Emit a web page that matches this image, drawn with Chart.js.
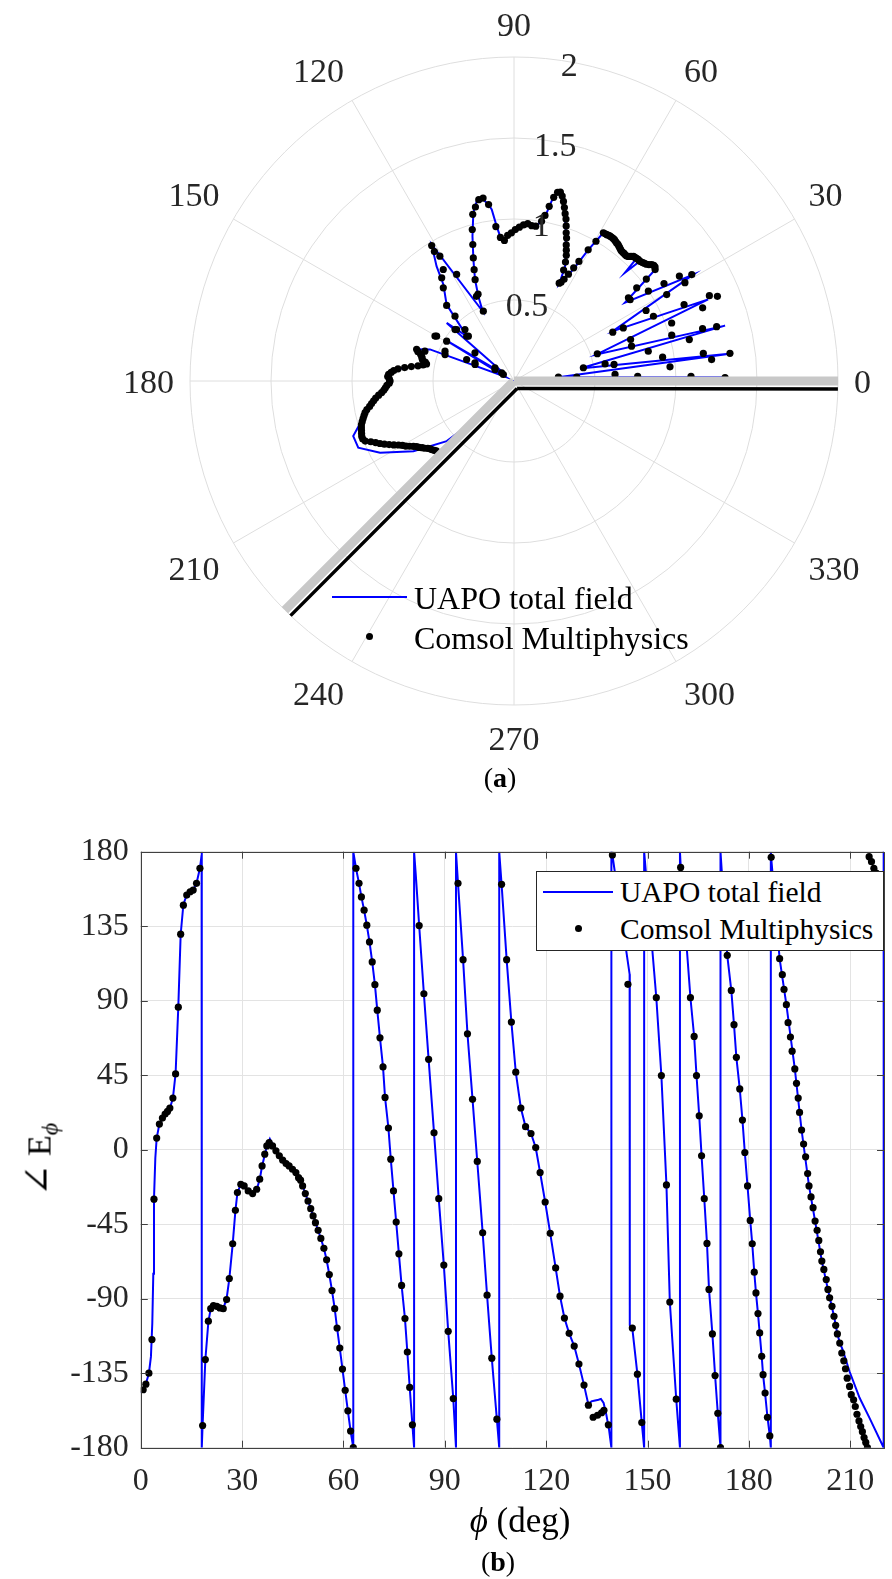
<!DOCTYPE html>
<html><head><meta charset="utf-8">
<script src="https://cdn.jsdelivr.net/npm/chart.js@4.4.1/dist/chart.umd.min.js"></script>
<style>
html,body{margin:0;padding:0;background:#fff;}
body{width:892px;height:1579px;position:relative;overflow:hidden;font-family:'Liberation Serif','Times New Roman',serif;color:#000;}
canvas{position:absolute;left:0;}
#ca{top:0;}
#cb{top:790px;}
.t{position:absolute;white-space:nowrap;line-height:1;}
</style></head><body>
<canvas id="ca" width="892" height="790"></canvas>
<canvas id="cb" width="892" height="789"></canvas>

<!-- legend (a) -->
<div style="position:absolute;left:332px;top:596px;width:75px;height:2px;background:#0000ff"></div>
<div style="position:absolute;left:365.5px;top:633px;width:7px;height:7px;border-radius:50%;background:#000"></div>
<div class="t" style="left:414px;top:582px;font-size:32px">UAPO total field</div>
<div class="t" style="left:414px;top:622px;font-size:32px">Comsol Multiphysics</div>
<div class="t" style="left:480px;top:764px;font-size:28px;width:40px;text-align:center">(<b>a</b>)</div>

<!-- legend (b) -->
<div style="position:absolute;left:535.5px;top:870.5px;width:346px;height:78px;border:1px solid #262626;background:#fff"></div>
<div style="position:absolute;left:543px;top:890.5px;width:70px;height:2px;background:#0000ff"></div>
<div style="position:absolute;left:574.5px;top:924.5px;width:7px;height:7px;border-radius:50%;background:#000"></div>
<div class="t" style="left:620px;top:878px;font-size:29.5px">UAPO total field</div>
<div class="t" style="left:620px;top:915px;font-size:29.5px">Comsol Multiphysics</div>

<div class="t" style="left:-10px;top:1138px;width:100px;text-align:center;font-size:34px;transform:rotate(-90deg);transform-origin:50% 50%"><span style="font-size:38px;font-family:'DejaVu Serif',serif;font-weight:normal">∠</span> E<sub style="font-size:24px;vertical-align:-7px"><i>ϕ</i></sub></div>
<div class="t" style="left:420px;top:1503px;width:200px;text-align:center;font-size:35px"><i>ϕ</i> (deg)</div>
<div class="t" style="left:478px;top:1548px;width:40px;text-align:center;font-size:28px">(<b>b</b>)</div>

<script>
// ---------- (a) polar amplitude |E_phi| vs phi (deg) ----------
const angleTickValues = [0,30,60,90,120,150,180,210,240,270,300,330];
const angleTickLabels = ['0','30','60','90','120','150','180','210','240','270','300','330'];
const radialTicks = [0, 0.5, 1, 1.5, 2];

const uapoAmp = [
 [0,1.27],[1.0,1.30],[4.9,0.275],[7.2,1.354],[10.7,0.415],[14.7,1.347],[17.8,0.536],[22.8,1.30],
 [26.8,0.683],[30.7,1.287],[35.2,0.838],[38.3,1.11],[40.2,1.113],[42.4,1.081],[43.6,1.07],[44.3,0.957],
 [45.0,1.07],[46.3,1.066],[47.9,1.038],[50.3,1.041],[53.4,1.062],[56.5,1.073],[58.9,1.068],
 [60.5,0.93],[62.0,0.78],[64.1,0.697],[65.0,0.66],[66.0,0.776],[68.5,0.872],[70.7,0.969],[72.8,1.065],[74.7,1.151],
 [76.3,1.20],[77.2,1.19],[78.2,1.134],[79.0,1.057],[81.2,0.978],[82.9,0.963],[84.8,0.98],[87.8,0.946],
 [90.3,0.925],[92.2,0.905],[93.7,0.865],[95.5,0.898],[96.4,0.962],[97.4,1.068],[98.3,1.101],[100.0,1.148],
 [101.7,1.134],[103.6,1.068],[106.0,0.93],[108.5,0.79],[111.0,0.671],[112.8,0.568],[114.2,0.472],
 [121.1,0.984],[124.0,0.855],[126.2,0.738],[131.4,0.629],[136.5,0.40],[139.2,0.549],[144.0,0.06],
 [149.0,0.50],[154.0,0.06],[159.4,0.554],[162.0,0.632],[166.9,0.585],[169.3,0.549],[171.6,0.628],
 [174.4,0.728],[177.8,0.776],[180.8,0.766],[184.4,0.809],[189.9,0.902],[192.7,0.943],[198.9,1.049],
 [203.2,1.046],[208.2,0.938],[214.9,0.757],[221.8,0.557],[223.7,0.404],[225.2,0],[359.9,0]
];
const comsolAmp = [
 [0.9,1.303],[1.5,1.093],[2.1,0.764],[3.5,0.388],[3.7,0.625],[4.9,0.275],[5.2,0.967],[6.2,1.227],
 [7.3,1.344],[8.3,1.181],[9.1,0.929],[9.4,0.626],[10.6,0.572],[10.8,0.436],[12.5,0.849],[13.3,1.112],
 [15.0,1.295],[15.5,1.208],[16.2,1.014],[16.5,0.757],[18.1,0.541],[19.6,0.764],[20.2,1.037],[21.2,1.249],
 [22.6,1.36],[23.6,1.316],[24.2,1.151],[24.9,0.949],[25.9,0.75],[26.3,0.68],[28.1,0.924],[29.5,1.083],
 [29.9,1.217],[30.9,1.279],[32.4,1.209],[33.0,1.104],[33.8,0.998],[35.0,0.875],[36.0,0.873],[37.2,0.951],[37.6,1.031],
 [38.3,1.11],[39.0,1.12],[39.6,1.12],[40.2,1.113],[40.8,1.10],[41.4,1.09],[42.0,1.085],[42.6,1.08],
 [43.2,1.075],[43.8,1.072],[44.4,1.073],[45.0,1.07],[45.6,1.068],[46.2,1.066],[46.8,1.055],[47.4,1.045],
 [48.0,1.038],[48.6,1.038],[49.2,1.04],[49.8,1.04],[50.4,1.041],[51.0,1.045],[51.6,1.05],[52.2,1.055],
 [52.8,1.06],[53.4,1.062],[54.0,1.066],[54.6,1.07],[55.2,1.072],[55.8,1.073],[56.4,1.073],[57.0,1.072],
 [57.6,1.07],[58.2,1.069],[58.9,1.068],[59.6,1.0],[60.5,0.93],[61.5,0.84],[62.2,0.79],[63.0,0.74],
 [63.8,0.70],[64.5,0.675],[65.2,0.665],[65.9,0.75],[66.6,0.80],[67.4,0.84],[68.2,0.87],[69.0,0.90],
 [69.8,0.94],[70.6,0.97],[71.4,1.01],[72.2,1.05],[73.0,1.08],[73.8,1.115],[74.6,1.15],[75.4,1.18],
 [76.2,1.20],[77.0,1.195],[77.8,1.16],[78.6,1.10],[79.4,1.04],[80.2,1.00],[82.0,0.965],[83.5,0.965],
 [85.0,0.975],[86.5,0.965],[88.0,0.95],[89.5,0.935],[91.0,0.915],[92.5,0.90],[93.9,0.87],[95.4,0.89],
 [96.7,0.96],[98.2,1.10],[99.6,1.145],[101.0,1.14],[102.5,1.10],[103.9,1.06],[105.4,0.97],[106.8,0.88],
 [108.3,0.80],[109.7,0.73],[111.0,0.67],[112.5,0.58],[113.7,0.471],[113.9,0.572],[118.3,0.747],
 [120.7,0.896],[121.3,0.978],[121.6,0.938],[122.4,0.815],[125.0,0.778],[127.2,0.722],[131.7,0.625],
 [132.3,0.541],[133.6,0.439],[135.5,0.395],[136.6,0.402],[138.1,0.476],[138.9,0.483],[144.2,0.297],
 [145.3,0.143],[146.5,0.091],[148.6,0.077],[148.8,0.137],[149.4,0.483],[149.9,0.552],[150.4,0.561],
 [155.0,0.266],[155.6,0.321],[156.6,0.464],[157.0,0.261],[159.0,0.456],[161.5,0.58],[162.0,0.632],
 [163,0.62],[164,0.60],[165,0.59],[166,0.585],[167,0.58],[168,0.56],[169,0.55],[170,0.57],[171,0.60],
 [172,0.64],[173,0.68],[174,0.72],[175,0.745],[176,0.76],[177,0.775],[178,0.78],[179,0.77],[180,0.765],
 [181,0.77],[182,0.785],[183,0.795],[184,0.805],[185,0.82],[186,0.84],[187,0.86],[188,0.875],[189,0.89],
 [190,0.905],[191,0.925],[192,0.94],[193,0.95],[194,0.96],[195,0.97],[196,0.98],[197,0.985],[198,0.99],
 [199,0.995],[200,1.0],[201,1.0],[202,0.99],[203,0.96],[204,0.935],[205,0.913],[206,0.89],[207,0.865],
 [208,0.84],[209,0.815],[210,0.795],[211,0.78],[212,0.76],[213,0.74],[214,0.725],[215,0.715],[216,0.70],
 [217,0.69],[218,0.675],[219,0.665],[220,0.66],[221,0.652],[222,0.645]
];
// wedge faces (PEC wedge, faces at 0 and 225 deg)
const wedgeShadow = [[0.1,0],[0,2.0],[225.1,0],[225,2.0]];
const wedgeFaceA = [[292.5,0.05],[358.6,2.0]];
const wedgeFaceB = [[292.5,0.05],[226.4,2.0]];

// ---------- (b) phase of E_phi vs phi ----------
const xTicks = [0,30,60,90,120,150,180,210];
const yTicks = [-180,-135,-90,-45,0,45,90,135,180];
const uapoPhase = [
 [0,-147],[0.7,-145],[1.5,-141.5],[2.4,-135],[3.0,-125],[3.4,-105],[3.7,-75],[3.9,-30],[4.3,-5],[4.7,7],
 [5.5,15.5],[6.4,19],[7.2,21.5],[7.9,23],[8.6,25],[9.5,31],[10.3,46],[11.1,86],[11.8,130],[12.6,148],
 [13.6,154],[14.6,156],[15.5,157],[16.5,161],[17.5,170],[18.0,178],[18.05,180],[18.05,-180],[18.3,-166],
 [19.1,-127],[20.0,-104],[20.7,-96],[21.5,-94],[22.5,-95],[23.4,-96],[24.4,-96],[25.4,-90],[26.2,-78],
 [27.2,-57],[28.0,-37],[28.6,-26],[29.6,-21],[30.6,-22],[31.8,-25],[33.1,-26.5],[34.3,-24],[35.2,-18],
 [35.9,-10],[36.7,-3],[37.3,2],[38.2,6.5],[39.0,3],[40.0,-0.7],[41.0,-3.7],[42.0,-6.3],[43.0,-8.4],
 [43.9,-9.8],[44.9,-11.8],[45.9,-13.8],[46.7,-16.9],[47.3,-18.4],[47.9,-21.9],[48.7,-26.5],[49.5,-31],
 [50.3,-35.6],[51.0,-40],[51.7,-44.1],[52.5,-48.7],[53.3,-53.6],[54.2,-59.6],[55.0,-66.5],[55.8,-75.4],
 [56.6,-85.1],[57.4,-96],[58.1,-107.7],[58.9,-119.8],[59.7,-132.5],[60.5,-145.3],[61.3,-157.7],
 [62.1,-169.9],[62.9,-180],[62.9,180],[63.7,170],[64.6,160.9],[65.3,152.7],[66.1,144.7],[66.9,135.6],
 [67.7,125.5],[68.5,113.4],[69.3,99.7],[70.0,84.3],[70.8,67.6],[71.7,50],[72.3,31.6],[73.3,13.1],
 [74.0,-5.7],[74.8,-24.9],[75.6,-43.7],[76.4,-62.9],[77.2,-82],[78.2,-102],[78.9,-122.2],[79.6,-143.6],
 [80.4,-166.2],[80.9,-180],[80.9,180],[81.4,166],[82.4,135.4],[83.8,94.2],[85.2,54.6],[86.8,10.2],
 [88.2,-29.6],[89.7,-69.7],[91.0,-109.7],[92.5,-150.3],[93.3,-180],[93.3,180],[93.9,160.9],[95.4,114.8],
 [96.7,70],[98.2,30.4],[99.6,-7.1],[101.2,-50.2],[102.5,-87.9],[103.9,-125.9],[105.4,-162.8],[106.1,-180],
 [106.1,180],[106.8,160.3],[108.3,114.8],[109.7,77.1],[111.0,46.8],[112.5,25.2],[113.9,13.9],[115.5,9.8],
 [116.9,1.3],[118.2,-13.8],[119.7,-31.6],[121.2,-50.5],[122.8,-71.4],[124.1,-88.5],[125.4,-101.7],
 [126.8,-110.9],[128.3,-118.6],[129.7,-129.5],[131.2,-142.2],[132.5,-154],[133.4,-152],[134.5,-151.5],
 [135.5,-151],[136.2,-150.5],[137.0,-153],[137.8,-160],[138.6,-169],[139.3,-180],[139.3,180],[139.6,178],
 [144.7,106],[144.75,-106],[145.5,-108],[147.0,-135.6],[148.3,-165],[149.0,-180],[149.0,180],
 [152.6,91.8],[154.1,44.8],[155.6,-21.3],[156.6,-92],[158.5,-150.7],[159.6,-180],[159.6,180],[159.8,172],
 [162.7,91.8],[163.8,68.4],[164.5,44.8],[165.3,20.5],[166.0,-3.7],[166.8,-29.6],[167.6,-56.6],
 [168.2,-84.4],[169.2,-111.3],[170.0,-136.4],[170.8,-159.2],[171.6,-180],[171.6,180],[173.6,117.4],
 [174.8,96.2],[175.6,75.5],[176.3,55.8],[177.3,36.7],[178.1,17.9],[178.8,-1.7],[179.6,-21.9],[180.4,-42.7],
 [181.0,-56.8],[181.6,-74],[182.1,-86.5],[182.7,-99],[183.2,-110.7],[183.8,-124.8],[184.2,-135.9],
 [184.8,-147],[185.5,-161.6],[186.2,-172.9],[186.5,-180],[186.5,180],[186.6,176.6],[189.1,115.4],
 [191.1,87.6],[193.6,48.8],[195.6,11.9],[197.8,-21.9],[199.6,-43.1],[201.6,-67.3],[203.4,-84.4],
 [205.2,-100.6],[206.2,-111.3],[206.9,-116.5],[207.8,-121],[209.8,-134],[212.8,-150],[215.7,-162],
 [219.9,-180],[219.9,180],[220.5,176]
];
const comsolPhase = [
 [0.7,-145],[1.5,-141.6],[2.4,-135],[3.3,-114.7],[3.9,-29.9],[4.7,7],[5.5,15.5],[6.4,19.1],[7.2,21.5],
 [7.9,23.1],[8.6,25.2],[9.5,31.2],[10.3,45.8],[11.1,86.1],[11.8,130.2],[12.6,147.7],[13.6,153.8],
 [14.6,155.8],[15.5,156.8],[16.5,160.9],[17.5,170],[18.3,-166.6],[19.1,-126.8],[20.0,-103.6],[20.7,-96],
 [21.5,-94.1],[22.5,-94.6],[23.4,-95.6],[24.4,-96],[25.4,-90.5],[26.2,-77.8],[27.2,-56.8],[28.0,-36.6],
 [28.6,-25.9],[29.6,-20.9],[30.6,-21.9],[31.8,-24.9],[33.1,-26.5],[34.3,-23.9],[35.2,-17.8],[35.9,-9.8],
 [36.7,-2.7],[37.3,2.3],[38.0,4.3],[39.0,2.3],[40.0,-0.7],[41.0,-3.7],[42.0,-6.3],[43.0,-8.4],[43.9,-9.8],
 [44.9,-11.8],[45.9,-13.8],[46.7,-16.9],[47.3,-18.4],[47.9,-21.9],[48.7,-26.5],[49.5,-31],[50.3,-35.6],
 [51.0,-40],[51.7,-44.1],[52.5,-48.7],[53.3,-53.6],[54.2,-59.6],[55.0,-66.5],[55.8,-75.4],[56.6,-85.1],
 [57.4,-96],[58.1,-107.7],[58.9,-119.8],[59.7,-132.5],[60.5,-145.3],[61.3,-157.7],[62.1,-169.9],
 [62.9,-180],[63.7,170],[64.6,160.9],[65.3,152.7],[66.1,144.7],[66.9,135.6],[67.7,125.5],[68.5,113.4],
 [69.3,99.7],[70.0,84.3],[70.8,67.6],[71.7,50],[72.3,31.6],[73.3,13.1],[74.0,-5.7],[74.8,-24.9],
 [75.6,-43.7],[76.4,-62.9],[77.2,-82],[78.2,-102],[78.9,-122.2],[79.6,-143.6],[80.4,-166.2],[82.4,135.4],
 [83.8,94.2],[85.2,54.6],[86.8,10.2],[88.2,-29.6],[89.7,-69.7],[91.0,-109.7],[92.5,-150.3],[93.9,160.9],
 [95.4,114.8],[96.7,70],[98.2,30.4],[99.6,-7.1],[101.2,-50.2],[102.5,-87.9],[103.9,-125.9],[105.4,-162.8],
 [106.8,160.3],[108.3,114.8],[109.7,77.1],[111.0,46.8],[112.5,25.2],[113.9,13.9],[115.5,9.8],[116.9,1.3],
 [118.2,-13.8],[119.7,-31.6],[121.2,-50.5],[122.8,-71.4],[124.1,-88.5],[125.4,-101.7],[126.8,-110.9],
 [128.3,-118.6],[129.7,-129.5],[131.2,-142.2],[132.5,-154.3],[133.9,-161.6],[135.2,-160.4],[136.4,-158.9],
 [137.1,-157.4],[138.4,-166.2],[139.6,178],[144.2,99.9],[145.5,-107.7],[147.0,-135.6],[148.3,-164.8],
 [152.6,91.8],[154.1,44.8],[155.6,-21.3],[156.6,-92],[158.5,-150.7],[159.8,170.5],[162.7,91.8],
 [163.8,68.4],[164.5,44.8],[165.3,20.5],[166.0,-3.7],[166.8,-29.6],[167.6,-56.6],[168.2,-84.4],
 [169.2,-111.3],[170.0,-136.4],[170.8,-159.2],[171.6,-180],[173.6,117.4],[174.8,96.2],[175.6,75.5],
 [176.3,55.8],[177.3,36.7],[178.1,17.9],[178.8,-1.7],[179.6,-21.9],[180.4,-42.7],[181.0,-56.8],
 [181.6,-74],[182.1,-86.5],[182.7,-99],[183.2,-110.7],[183.8,-124.8],[184.2,-135.9],[184.8,-147],
 [185.5,-161.6],[186.2,-172.9],[186.6,176.6],[187.4,157],[188.3,135],[189.1,115.4],[189.9,105.7],
 [190.4,96.8],[191.1,87.6],[191.6,76.7],[192.3,68],[192.8,59.5],[193.6,48.8],[194.1,40.1],[194.6,31.2],
 [195.0,22.5],[195.6,11.9],[196.2,3.4],[196.8,-4.3],[197.4,-14.4],[197.8,-21.9],[198.4,-28.5],[199.0,-35],
 [199.6,-43.1],[200.2,-48.7],[200.7,-54.8],[201.2,-61.7],[201.6,-67.3],[202.2,-72.3],[202.9,-78.4],
 [203.4,-84.4],[203.9,-89.5],[204.6,-94.6],[205.2,-100.6],[205.7,-106.1],[206.2,-111.3],[206.9,-116.8],
 [207.5,-122.8],[208.1,-127.5],[208.6,-132.3],[209.1,-138],[209.8,-143],[210.3,-148],[211.0,-151.1],
 [211.5,-155.1],[212.0,-159.8],[212.6,-163.8],[213.1,-167.2],[213.6,-170.3],[214.1,-173.9],[214.6,-176.8],
 [215.1,-180],[215.6,177],[216.3,174],[217.0,170],[217.7,167],[218.4,163],[219.1,160],[219.8,156],[220.5,153]
];

// ---------- polar chart (radar scale at 0.1 deg resolution) ----------
const RES = 10, N = 360*RES, START = 80; // index 0 sits at 80 deg (radial tick direction)
function idx(theta){ return ((Math.round((START - theta)*RES) % N) + N) % N; }
function toRadar(pairs){ const d = new Array(N).fill(null); pairs.forEach(p => { d[idx(p[0])] = p[1]; }); return d; }
const radarLabels = Array.from({length:N}, (_, i) => i);

const FONT = "'Liberation Serif','Times New Roman',serif";
Chart.defaults.font.family = FONT;

const polarTextPlugin = {
  id: 'polarText',
  afterDraw(chart){
    const s = chart.scales.r, ctx = chart.ctx, fs = 34;
    ctx.save();
    ctx.font = fs + "px " + FONT;
    ctx.fillStyle = '#262626';
    ctx.textAlign = 'center';
    ctx.textBaseline = 'middle';
    // theta tick labels: anchored just outside the outer ring, aligned away from the centre
    angleTickValues.forEach((th, k) => {
      const lab = angleTickLabels[k];
      const w = ctx.measureText(lab).width, h = fs;
      const a = th*Math.PI/180;
      const c = Math.cos(a), sn = Math.sin(a);
      const sx = Math.abs(c) < 1e-6 ? 0 : Math.sign(c);
      const sy = Math.abs(sn) < 1e-6 ? 0 : Math.sign(sn);
      const p = s.getPointPosition(idx(th), s.drawingArea + 16);
      ctx.fillText(lab, p.x + sx*w/2, p.y - sy*h/2 + 3.5);
    });
    // radial tick labels along the 80 deg spoke (upright)
    radialTicks.forEach(v => {
      if (v === 0) return;
      const p = s.getPointPosition(idx(START), s.getDistanceFromCenterForValue(v) - 5.5);
      ctx.fillText(String(v), p.x, p.y);
    });
    ctx.restore();
  }
};

new Chart(document.getElementById('ca'), {
  type: 'radar',
  data: {
    labels: radarLabels,
    datasets: [
      { data: toRadar(wedgeFaceA), borderColor:'#000', borderWidth:3.5, pointRadius:0, fill:false, spanGaps:true },
      { data: toRadar(wedgeFaceB), borderColor:'#000', borderWidth:3.5, pointRadius:0, fill:false, spanGaps:true },
      { data: toRadar(wedgeShadow), borderColor:'#c8c8c8', borderWidth:9, pointRadius:0, fill:false, spanGaps:false, borderCapStyle:'butt' },
      { label:'Comsol Multiphysics', data: toRadar(comsolAmp), showLine:false, pointRadius:3.6, pointBackgroundColor:'#000', pointBorderWidth:0, fill:false },
      { label:'UAPO total field', data: toRadar(uapoAmp), borderColor:'#0000ff', borderWidth:2, pointRadius:0, fill:false, spanGaps:true, tension:0 }
    ]
  },
  options: {
    responsive:false, animation:false, devicePixelRatio:1,
    layout: { padding: { left:190, right:54, top:57.5, bottom:84.5 } },
    plugins: { legend:{display:false}, tooltip:{enabled:false} },
    elements: { point: { hitRadius:0 } },
    scales: {
      r: {
        min:0, max:2, startAngle: 90 - START,
        afterBuildTicks: s => { s.ticks = radialTicks.map(v => ({value:v})); },
        ticks: { display:false },
        grid: { circular:true, color:'#dedede', lineWidth:1 },
        angleLines: { display:true, color:'#dedede',
          lineWidth: ctx => ((ctx.index % (30*RES)) === ((START % 30)*RES) ? 1 : 0) },
        pointLabels: { display:false }
      }
    }
  },
  plugins: [polarTextPlugin]
});

// ---------- phase chart ----------
const boxPlugin = {
  id:'matlabBox',
  afterDraw(chart){
    const {ctx, chartArea:a, scales:{x,y}} = chart, L = 7;
    ctx.save();
    ctx.strokeStyle = '#404040'; ctx.lineWidth = 1;
    ctx.beginPath();
    xTicks.forEach(v => { const px = Math.round(x.getPixelForValue(v)) + 0.5;
      ctx.moveTo(px, a.bottom); ctx.lineTo(px, a.bottom - L); ctx.moveTo(px, a.top); ctx.lineTo(px, a.top + L); });
    yTicks.forEach(v => { const py = Math.round(y.getPixelForValue(v)) + 0.5;
      ctx.moveTo(a.left, py); ctx.lineTo(a.left + L, py); ctx.moveTo(a.right, py); ctx.lineTo(a.right - L, py); });
    ctx.stroke();
    ctx.strokeRect(Math.round(a.left)+0.5, Math.round(a.top)+0.5, Math.round(a.right-a.left), Math.round(a.bottom-a.top));
    ctx.restore();
  }
};

new Chart(document.getElementById('cb'), {
  type: 'scatter',
  data: {
    datasets: [
      { label:'Comsol Multiphysics', data: comsolPhase.map(p => ({x:p[0], y:p[1]})), pointRadius:3.6,
        pointBackgroundColor:'#000', pointBorderWidth:0, showLine:false },
      { label:'UAPO total field', data: uapoPhase.map(p => ({x:p[0], y:p[1]})), pointRadius:0,
        borderColor:'#0000ff', borderWidth:2, showLine:true, tension:0 }
    ]
  },
  options: {
    responsive:false, animation:false, devicePixelRatio:1,
    layout: { padding: { left:0, right:8, top:61.7, bottom:0 } },
    plugins: { legend:{display:false}, tooltip:{enabled:false} },
    scales: {
      x: { type:'linear', min:0, max:220,
        afterBuildTicks: s => { s.ticks = xTicks.map(v => ({value:v})); },
        afterFit: s => { s.height = 131.3; },
        grid: { color:'#e3e3e3', drawTicks:false, lineWidth:1 }, border:{display:false},
        ticks: { color:'#262626', font:{size:32, family:FONT}, padding:15, maxRotation:0, autoSkip:false } },
      y: { type:'linear', min:-180, max:180,
        afterBuildTicks: s => { s.ticks = yTicks.map(v => ({value:v})); },
        afterFit: s => { s.width = 140.8; },
        grid: { color:'#e3e3e3', drawTicks:false, lineWidth:1 }, border:{display:false},
        ticks: { color:'#262626', font:{size:32, family:FONT}, padding:12, autoSkip:false } }
    }
  },
  plugins: [boxPlugin]
});
</script>
</body></html>
